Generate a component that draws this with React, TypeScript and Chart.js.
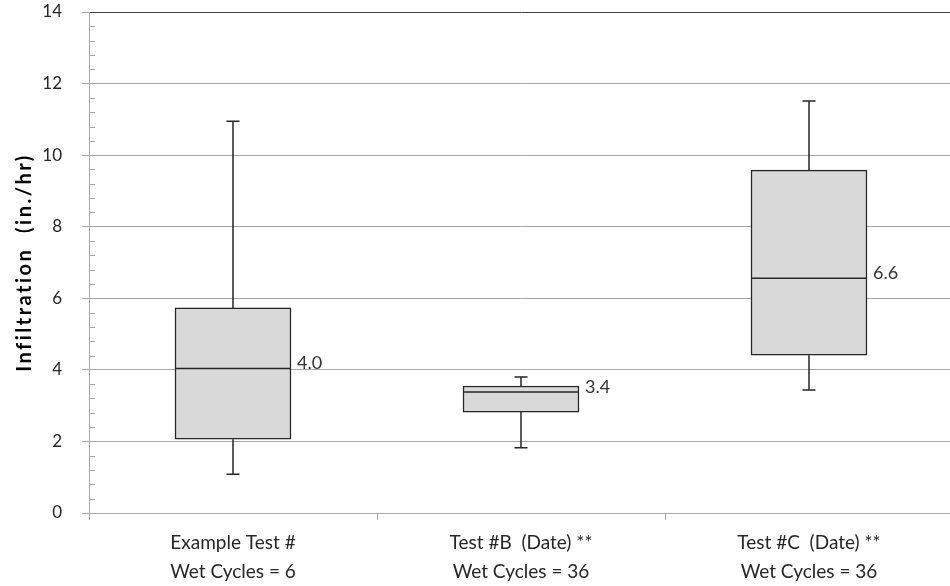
import React, { useEffect, useRef } from "react";
import { Chart, registerables } from "chart.js";

Chart.register(...registerables);

const categories: string[][] = [
  ["Example Test #", "Wet Cycles = 6"],
  ["Test #B  (Date) **", "Wet Cycles = 36"],
  ["Test #C  (Date) **", "Wet Cycles = 36"],
];
const minValues = [1.08, 1.82, 3.44];
const q1Values = [2.06, 2.82, 4.41];
const medianValues = [4.04, 3.38, 6.56];
const q3Values = [5.73, 3.55, 9.58];
const maxValues = [10.95, 3.8, 11.51];
const medianLabels = ["4.0", "3.4", "6.6"];
const yMin = 0;
const yMax = 14;
const yMajorStep = 2;
const yMinorStep = 0.4;
const yTitle = "Infiltration  (in./hr)";

const FONT = "Lato, 'Open Sans', sans-serif";

const boxPlugin = {
  id: "boxExtras",
  afterDatasetsDraw(chart: any) {
    const ctx = chart.ctx;
    const y = chart.scales.y;
    const meta = chart.getDatasetMeta(0);
    ctx.save();
    ctx.strokeStyle = "#262626";
    ctx.lineWidth = 1.5;
    meta.data.forEach((el: any, i: number) => {
      const x = el.x;
      const half = el.width / 2;
      const cap = 6.5;
      const pMin = y.getPixelForValue(minValues[i]);
      const pQ1 = y.getPixelForValue(q1Values[i]);
      const pMed = y.getPixelForValue(medianValues[i]);
      const pQ3 = y.getPixelForValue(q3Values[i]);
      const pMax = y.getPixelForValue(maxValues[i]);
      ctx.beginPath();
      ctx.moveTo(x, pQ3);
      ctx.lineTo(x, pMax);
      ctx.moveTo(x - cap, pMax);
      ctx.lineTo(x + cap, pMax);
      ctx.moveTo(x, pQ1);
      ctx.lineTo(x, pMin);
      ctx.moveTo(x - cap, pMin);
      ctx.lineTo(x + cap, pMin);
      ctx.moveTo(x - half, pMed);
      ctx.lineTo(x + half, pMed);
      ctx.stroke();
      ctx.fillStyle = "#333333";
      ctx.font = `18px ${FONT}`;
      ctx.textAlign = "left";
      ctx.textBaseline = "middle";
      ctx.fillText(medianLabels[i], x + half + 6, pMed - 5);
    });
    // minor ticks on the y axis (inside)
    const left = chart.chartArea.left;
    ctx.strokeStyle = "#a6a6a6";
    ctx.lineWidth = 1;
    const n = Math.round((yMax - yMin) / yMinorStep);
    for (let k = 1; k < n; k++) {
      const v = yMin + k * yMinorStep;
      if (Math.abs(v / yMajorStep - Math.round(v / yMajorStep)) < 1e-6) continue;
      const py = Math.round(y.getPixelForValue(v)) + 0.5;
      ctx.beginPath();
      ctx.moveTo(left, py);
      ctx.lineTo(left + 6, py);
      ctx.stroke();
    }
    // y axis title (letter-spaced, bold)
    const ca = chart.chartArea;
    ctx.save();
    ctx.translate(25, (ca.top + ca.bottom) / 2);
    ctx.rotate(-Math.PI / 2);
    ctx.fillStyle = "#000000";
    ctx.font = `bold 20px ${FONT}`;
    (ctx as any).letterSpacing = "2.5px";
    ctx.textAlign = "center";
    ctx.textBaseline = "middle";
    ctx.fillText(yTitle, 0, 0);
    ctx.restore();
    ctx.restore();
  },
};

export default function App() {
  const ref = useRef<HTMLCanvasElement | null>(null);
  useEffect(() => {
    if (!ref.current) return;
    const chart = new Chart(ref.current, {
      type: "bar",
      data: {
        labels: categories,
        datasets: [
          {
            data: q1Values.map((q, i) => [q, q3Values[i]]),
            backgroundColor: "#d9d9d9",
            borderColor: "#262626",
            borderWidth: 1.5,
            borderSkipped: false,
            barThickness: 116,
          },
        ],
      },
      options: {
        responsive: false,
        animation: false,
        layout: { padding: { top: 12, right: 0, left: 0, bottom: 0 } },
        plugins: { legend: { display: false }, tooltip: { enabled: false } },
        scales: {
          x: {
            offset: true,
            grid: {
              offset: true,
              drawOnChartArea: false,
              drawTicks: true,
              tickLength: 7,
              color: "#a6a6a6",
            },
            border: { display: true, color: "#a6a6a6" },
            ticks: {
              color: "#262626",
              font: { family: FONT, size: 19, lineHeight: 29 / 19 },
              padding: 8,
              maxRotation: 0,
              autoSkip: false,
            },
            afterFit: (s: any) => {
              s.height = 73;
              s.paddingLeft = 0;
              s.paddingRight = 0;
            },
          },
          y: {
            min: yMin,
            max: yMax,
            ticks: {
              stepSize: yMajorStep,
              color: "#262626",
              font: { family: FONT, size: 17 },
              padding: 20,
            },
            grid: {
              color: (c: any) => (c.tick && c.tick.value === yMax ? "#404040" : "#a6a6a6"),
              tickColor: "#a6a6a6",
              tickLength: 7,
              lineWidth: 1,
            },
            border: { display: true, color: "#a6a6a6" },
            title: { display: false },
            afterFit: (s: any) => {
              s.width = 89;
              s.paddingTop = 0;
              s.paddingBottom = 0;
            },
          },
        },
      },
      plugins: [boxPlugin],
    });
    return () => chart.destroy();
  }, []);
  return (
    <div
      style={{
        position: "absolute",
        left: 0,
        top: 0,
        width: 950,
        height: 586,
        overflow: "hidden",
        background: "#fff",
      }}
    >
      <canvas ref={ref} width={953} height={586} style={{ display: "block" }} />
    </div>
  );
}
